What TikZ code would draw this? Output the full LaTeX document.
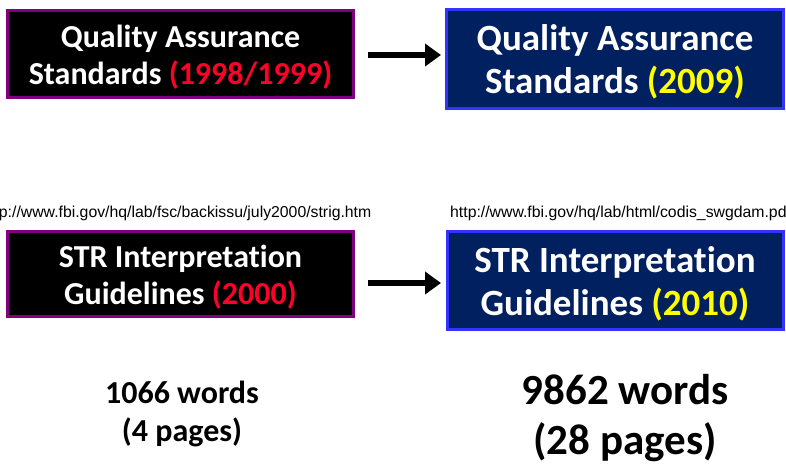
\documentclass[tikz,border=0pt]{standalone}
\usepackage{fontspec}
\setmainfont{Carlito}[Ligatures=NoCommon]
\newfontfamily\urlfont{Liberation Sans}
\usetikzlibrary{arrows.meta}
\definecolor{oldpurple}{RGB}{128,0,128}
\definecolor{newblue}{RGB}{51,51,255}
\definecolor{navyfill}{RGB}{0,32,96}
\definecolor{yeared}{RGB}{255,0,40}
\definecolor{yearyellow}{RGB}{255,255,0}
\begin{document}
\begin{tikzpicture}[x=1pt,y=1pt,
    oldbox/.style={draw=oldpurple,line width=3pt,fill=black,inner sep=0pt},
    newbox/.style={draw=newblue,line width=3pt,fill=navyfill,inner sep=0pt},
    oldtext/.style={text=white,align=center,inner sep=0pt,
        font=\bfseries\fontsize{32}{37.5}\selectfont},
    newtext/.style={text=white,align=center,inner sep=0pt,
        font=\bfseries\fontsize{37}{43}\selectfont},
    url/.style={font=\urlfont\fontsize{15.8}{18}\selectfont,inner sep=0pt},
    bigarrow/.style={line width=6pt,-{Triangle[length=16pt,width=22pt]}}]
    \useasboundingbox (0,0) rectangle (786,464);
    % the four boxes
    \node[oldbox,minimum width=346pt,minimum height=87pt] (qa old) at (180.5,410) {};
    \node[newbox,minimum width=337pt,minimum height=99pt] (qa new) at (615,405) {};
    \node[oldbox,minimum width=346pt,minimum height=85pt] (str old) at (180.5,190) {};
    \node[newbox,minimum width=336pt,minimum height=98pt] (str new) at (615,183.5) {};
    \node[oldtext] (qa old text) at ([yshift=-3pt]qa old.center)
        {Quality Assurance\\Standards \textcolor{yeared}{(1998/1999)}};
    \node[newtext] (qa new text) at ([yshift=-3pt]qa new.center)
        {Quality Assurance\\Standards \textcolor{yearyellow}{(2009)}};
    \node[oldtext] (str old text) at ([yshift=-3pt]str old.center)
        {STR Interpretation\\Guidelines \textcolor{yeared}{(2000)}};
    \node[newtext] (str new text) at ([yshift=-3pt]str new.center)
        {STR Interpretation\\Guidelines \textcolor{yearyellow}{(2010)}};
    \coordinate (qa from) at (368,409);
    \coordinate (qa to) at (441,409);
    \coordinate (str from) at (368,181);
    \coordinate (str to) at (441,181);
    \draw[bigarrow] (qa from) -- (qa to);
    \draw[bigarrow] (str from) -- (str to);
    \node[url,anchor=east] (url old) at (371.5,251) {http://www.fbi.gov/hq/lab/fsc/backissu/july2000/strig.htm};
    \node[url,anchor=west] (url new) at (450,251) {http://www.fbi.gov/hq/lab/html/codis\_swgdam.pdf};
    \node[align=center,font=\bfseries\fontsize{32}{38}\selectfont] (count old) at (182,50)
        {1066 words\\(4 pages)};
    \node[align=center,font=\bfseries\fontsize{43}{50}\selectfont] (count new) at (625,46)
        {9862 words\\(28 pages)};
\end{tikzpicture}
\end{document}
